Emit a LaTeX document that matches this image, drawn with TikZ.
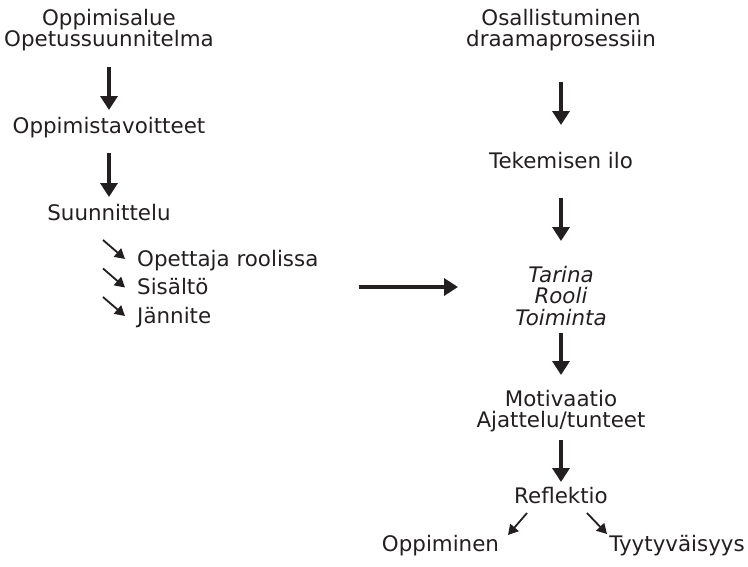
\documentclass[tikz,border=0pt]{standalone}
\usepackage{fontspec}
\setmainfont{DejaVu Sans}
\usetikzlibrary{arrows.meta}
\definecolor{tumma}{RGB}{35,31,32}

\tikzset{
  teksti/.style={font=\fontsize{21.4}{21}\selectfont,text=tumma,inner sep=0pt,align=center,anchor=base},
  nuoli/.style={draw=tumma,line width=3.6pt,-{Triangle[length=14pt,width=17pt]}},
  pieni/.style={draw=tumma,line width=1.8pt,-{Triangle[length=10pt,width=11pt]}},
}

\begin{document}
\begin{tikzpicture}[x=1pt,y=-1pt]
  \useasboundingbox (0,0) rectangle (748,566);
  % vasen sarake
  \node[teksti] (alue) at (109,46.7) {Oppimisalue\\Opetussuunnitelma};
  \node[teksti] (tavoite) at (109,133) {Oppimistavoitteet};
  \node[teksti] (suunn) at (109,220) {Suunnittelu};
  \node[teksti,anchor=base west] (rooli) at (137,266) {Opettaja roolissa};
  \node[teksti,anchor=base west] (sisalto) at (137,294.5) {Sisältö};
  \node[teksti,anchor=base west] (jannite) at (137,323) {Jännite};
  % oikea sarake
  \node[teksti] (osall) at (561,46.7) {Osallistuminen\\draamaprosessiin};
  \node[teksti] (ilo) at (561,168) {Tekemisen ilo};
  \node[teksti,font=\fontsize{21.4}{21.5}\selectfont\itshape] (tarina) at (561,325) {Tarina\\Rooli\\Toiminta};
  \node[teksti] (motiv) at (561,427) {Motivaatio\\Ajattelu/tunteet};
  \node[teksti] (refl) at (561,503) {Reflektio};
  \node[teksti] (oppi) at (440.5,551) {Oppiminen};
  \node[teksti] (tyyty) at (677,551) {Tyytyväisyys};

  \draw[nuoli] ([yshift=-20.3pt]alue.base) -- ([yshift=23pt]tavoite.base);
  \draw[nuoli] ([yshift=-20pt]tavoite.base) -- ([yshift=23pt]suunn.base);
  \foreach \n in {rooli,sisalto,jannite}
    \draw[pieni] ([shift={(-34pt,26pt)}]\n.base west) -- ([shift={(-12pt,7pt)}]\n.base west);
  \draw[nuoli] ([shift={(222pt,7.5pt)}]sisalto.base west) -- ([shift={(-103pt,38pt)}]tarina.base);

  \draw[nuoli] ([yshift=-35.3pt]osall.base) -- ([yshift=43pt]ilo.base);
  \draw[nuoli] ([yshift=-30pt]ilo.base) -- ([yshift=84pt]tarina.base);
  \draw[nuoli] ([yshift=-8pt]tarina.base) -- ([yshift=52pt]motiv.base);
  \draw[nuoli] ([yshift=-13pt]motiv.base) -- ([yshift=21pt]refl.base);
  \draw[pieni] ([shift={(-34pt,-10pt)}]refl.base) -- ([shift={(67.5pt,16pt)}]oppi.base);
  \draw[pieni] ([shift={(26pt,-10pt)}]refl.base) -- ([shift={(-70pt,17pt)}]tyyty.base);
\end{tikzpicture}
\end{document}
